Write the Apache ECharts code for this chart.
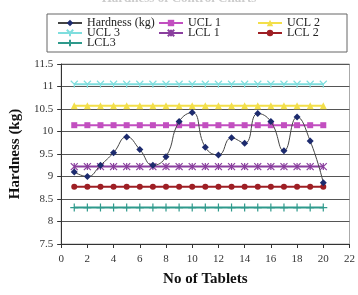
<!DOCTYPE html>
<html>
<head>
<meta charset="utf-8">
<script src="https://cdn.jsdelivr.net/npm/echarts@6/dist/echarts.min.js"></script>
<style>
  html, body { margin: 0; padding: 0; background: #fff; }
  #chart { width: 358px; height: 295px; }
</style>
</head>
<body>
<div id="chart"></div>
<script>
// tablets 1..20
const tablets = [1, 2, 3, 4, 5, 6, 7, 8, 9, 10, 11, 12, 13, 14, 15, 16, 17, 18, 19, 20];
const hardness = [9.1, 9.0, 9.25, 9.53, 9.88, 9.6, 9.25, 9.44, 10.22, 10.42, 9.65, 9.48, 9.86, 9.74, 10.4, 10.22, 9.57, 10.32, 9.79, 8.86];
const ucl1 = 10.14;
const ucl2 = 10.57;
const ucl3 = 11.05;
const lcl1 = 9.22;
const lcl2 = 8.77;
const lcl3 = 8.31;

const FONT = 'Liberation Serif';

let pairs = function (vals) {
    return tablets.map((t, i) => [t, Array.isArray(vals) ? vals[i] : vals]);
};

let limitSeries = function (name, value, color, symbol, size, stroke) {
    return {
        name: name,
        type: 'line',
        data: pairs(value),
        symbol: symbol,
        symbolSize: size,
        lineStyle: { color: color, width: 2 },
        itemStyle: stroke
            ? { color: 'none', borderColor: color, borderWidth: 1.2 }
            : { color: color },
        z: 2
    };
};

const legendText = { fontFamily: FONT, fontSize: 12, color: '#222', lineHeight: 10 };
let legendCol = function (left, names) {
    return {
        orient: 'vertical',
        left: left,
        top: 17,
        itemWidth: 24,
        itemHeight: 8,
        itemGap: -2,
        padding: 0,
        textStyle: legendText,
        data: names
    };
};

let chart = echarts.init(document.getElementById('chart'));
chart.setOption({
    animation: false,
    textStyle: { fontFamily: FONT },
    title: {
        text: 'Hardness of Control Charts',
        left: 'center',
        top: -13,
        textStyle: { fontFamily: FONT, fontSize: 13, color: '#ccc', fontWeight: 'bold' }
    },
    graphic: [{
        type: 'rect',
        shape: { x: 47, y: 14, width: 300, height: 38 },
        style: { fill: 'none', stroke: '#666', lineWidth: 1 }
    }],
    legend: [
        legendCol(57, ['Hardness (kg)', 'UCL 3', 'LCL3']),
        legendCol(158, ['UCL 1', 'LCL 1']),
        legendCol(257, ['UCL 2', 'LCL 2'])
    ],
    grid: {
        left: 48, right: 5, top: 64, bottom: 51,
        show: true, borderColor: '#aaa', borderWidth: 1
    },
    xAxis: {
        type: 'value',
        min: 0, max: 22, interval: 2,
        name: 'No of Tablets',
        nameLocation: 'middle',
        nameGap: 28,
        nameTextStyle: { fontFamily: FONT, fontSize: 15, fontWeight: 'bold', color: '#111' },
        axisLine: { lineStyle: { color: '#333' } },
        axisTick: { lineStyle: { color: '#333' }, length: 4 },
        axisLabel: { fontFamily: FONT, fontSize: 11, color: '#333', margin: 10 },
        splitLine: { show: false }
    },
    yAxis: {
        type: 'value',
        min: 7.5, max: 11.5, interval: 0.5,
        name: 'Hardness (kg)',
        nameLocation: 'middle',
        nameGap: 30,
        nameTextStyle: { fontFamily: FONT, fontSize: 15, fontWeight: 'bold', color: '#111' },
        axisLine: { show: true, lineStyle: { color: '#333' } },
        axisTick: { show: true, lineStyle: { color: '#333' }, length: 4 },
        axisLabel: { fontFamily: FONT, fontSize: 11, color: '#333', margin: 8 },
        splitLine: { lineStyle: { color: '#555', width: 1 } }
    },
    series: [
        {
            name: 'Hardness (kg)',
            type: 'line',
            data: pairs(hardness),
            smooth: 0.5,
            symbol: 'diamond',
            symbolSize: 7,
            lineStyle: { color: '#444', width: 1 },
            itemStyle: { color: '#1d2b6e' },
            z: 5
        },
        limitSeries('UCL 1', ucl1, '#c24fc0', 'rect', 6, false),
        limitSeries('UCL 2', ucl2, '#f3df4a', 'triangle', 7, false),
        limitSeries('UCL 3', ucl3, '#7fdede', 'path://M0,0L5,5L10,0M5,5L5,10', 7, true),
        limitSeries('LCL 1', lcl1, '#8a3f9e', 'path://M0,0L10,10M10,0L0,10M5,0L5,10', 7, true),
        limitSeries('LCL 2', lcl2, '#9e1f24', 'circle', 6, false),
        limitSeries('LCL3', lcl3, '#2f9a8c', 'path://M0,5L10,5M5,0L5,10', 8, true)
    ]
});
</script>
</body>
</html>
